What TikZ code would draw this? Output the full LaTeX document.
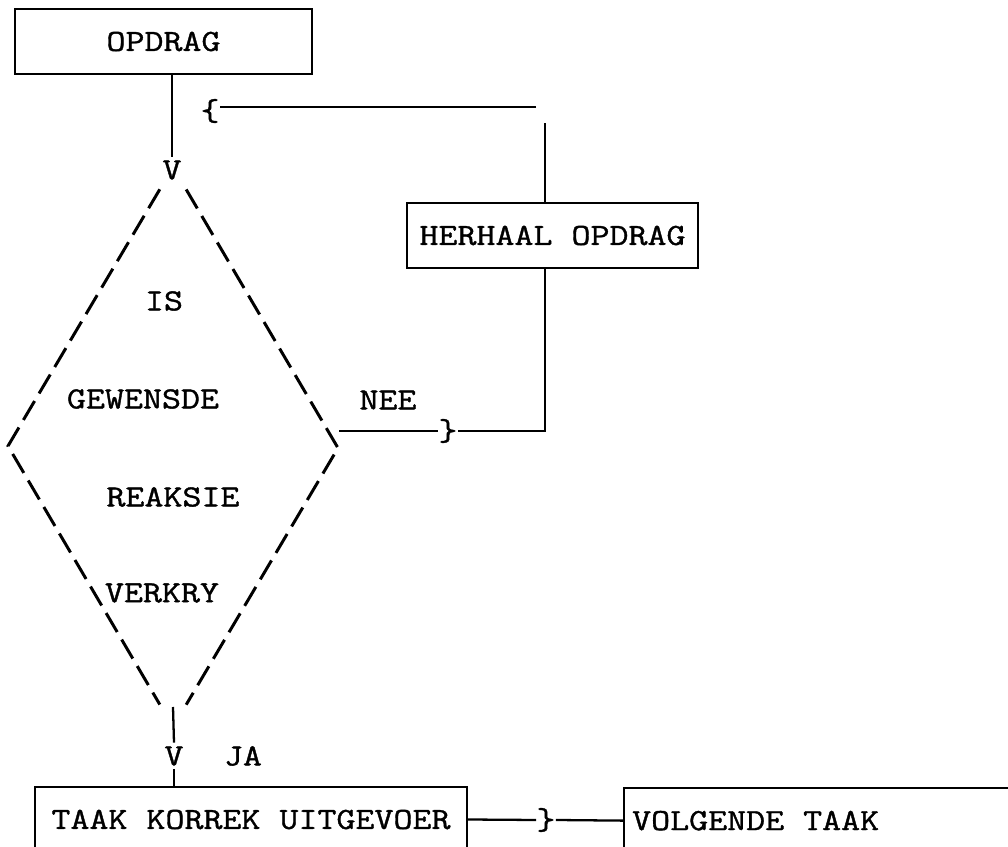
\documentclass[tikz,border=0pt]{standalone}
\usepackage{fontspec}
\setmonofont{Latin Modern Mono}[FakeStretch=1.2,FakeBold=1.2]
\usetikzlibrary{positioning,calc}
\tikzset{
   every node/.style={font=\ttfamily\fontsize{17.5}{20}\selectfont},
   blok/.style={draw,rectangle,line width=1.3pt,minimum height=1.3cm,inner sep=0pt},
   txt/.style={inner sep=0pt},
   pyl/.style={inner sep=2pt},
   lyn/.style={line width=1.3pt},
   ruit/.style={line width=1.7pt,dash pattern=on 12.5pt off 5pt},
}
\begin{document}
\begin{tikzpicture}[x=0.02cm,y=-0.02cm]
    \clip (0,0) rectangle (1008,847);

    \node[blok,minimum width=5.94cm] (opdrag)  at (163.5,41.5) {OPDRAG};
    \node[blok,minimum width=5.82cm] (herhaal) at (552.5,235.5) {HERHAAL OPDRAG};
    \node[blok,minimum width=8.64cm] (taak)    at (251,819.5) {TAAK KORREK UITGEVOER};
    \node[blok,anchor=north west,inner xsep=0.16cm] (volgende) at (623,787) {\makebox[7.8cm][l]{VOLGENDE TAAK}};

    % ruit
    \coordinate (dtop) at (173,167);
    \coordinate (dlft) at (8,446);
    \coordinate (drgt) at (338,448);
    \coordinate (dbot) at (173,727);
    \draw[ruit] ($(dtop)!0.08!(dlft)$) -- (dlft) -- ($(dbot)!0.08!(dlft)$);
    \draw[ruit] ($(dtop)!0.08!(drgt)$) -- (drgt) -- ($(dbot)!0.08!(drgt)$);

    \node[txt] (is)       at (164,301) {IS};
    \node[txt] (gewensde) at (143,399) {GEWENSDE};
    \node[txt] (reaksie)  at (173,497) {REAKSIE};
    \node[txt] (verkry)   at (162,593) {VERKRY};

    \node[pyl] (vbo)    at (172,170) {V};
    \node[pyl] (vonder) at (174,756) {V};
    \node[txt] (ja)     at (243,756) {JA};
    \node[txt] (nee)    at (388,400) {NEE};

    \node[txt] (hakbo)    at (210,111) {\{};
    \node[txt] (haknee)   at (448,431) {\}};
    \node[txt] (hakonder) at (546,820) {\}};

    \coordinate (terug)  at (545,123);
    \coordinate (terugh) at (536,107);
    \coordinate (neeb)   at (339,431);
    \coordinate (neeh)   at (545,431);
    \coordinate (jabo)   at (173,707);

    \draw[lyn] (opdrag.south -| vbo) -- (vbo.north);
    \draw[lyn] (herhaal.north -| terug) -- (terug);
    \draw[lyn] (terugh) -- (terugh -| hakbo.east);
    \draw[lyn] (neeb) -- (haknee.west);
    \draw[lyn] (haknee.east) -- (neeh) -- (herhaal.south -| neeh);
    \draw[lyn] (jabo) -- (vonder.north);
    \draw[lyn] (vonder.south) -- (vonder.south |- taak.north);
    \draw[lyn] (taak.east) -- (hakonder.west);
    \draw[lyn] (hakonder.east) -- (volgende.west);
\end{tikzpicture}
\end{document}
